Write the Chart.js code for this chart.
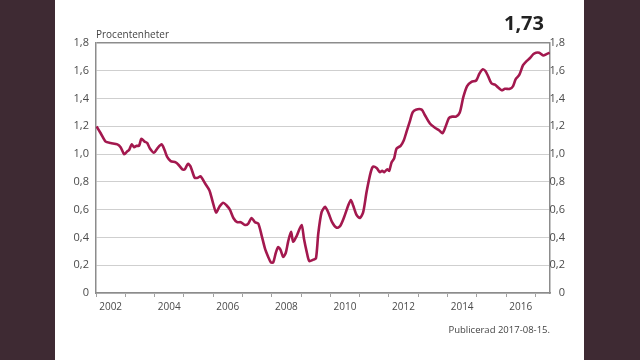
<!DOCTYPE html>
<html>
<head>
<meta charset="utf-8">
<script src="https://cdn.jsdelivr.net/npm/chart.js@4"></script>
<style>
  html, body { margin: 0; padding: 0; }
  body { width: 640px; height: 360px; background: #3e2a33; position: relative; overflow: hidden; font-family: "Open Sans", sans-serif; }
  #panel { position: absolute; left: 55px; top: 0; width: 529px; height: 360px; background: #fff; }
  #chart { position: absolute; left: 0; top: 0; }
  .txt { position: absolute; color: #444; white-space: nowrap; }
  #unit { left: 96px; top: 27px; font-size: 10px; }
  #last { right: 96px; top: 9px; font-size: 20px; font-weight: bold; color: #222; }
  #pub { right: 90px; top: 323px; font-size: 9.5px; }
</style>
</head>
<body>
<div id="panel"></div>
<canvas id="chart" width="640" height="360"></canvas>
<div class="txt" id="unit">Procentenheter</div>
<div class="txt" id="last">1,73</div>
<div class="txt" id="pub">Publicerad 2017-08-15.</div>
<script>
const years = [
  2002.02, 2002.16, 2002.33, 2002.50, 2002.73, 2002.84, 2002.96, 2003.07, 2003.13, 2003.22,
  2003.30, 2003.39, 2003.47, 2003.55, 2003.66, 2003.75, 2003.84, 2003.98, 2004.09, 2004.24,
  2004.34, 2004.43, 2004.55, 2004.72, 2004.83, 2004.95, 2005.03, 2005.14, 2005.23, 2005.37,
  2005.48, 2005.57, 2005.72, 2005.87, 2005.98, 2006.10, 2006.21, 2006.34, 2006.46, 2006.57,
  2006.69, 2006.82, 2006.94, 2007.09, 2007.20, 2007.31, 2007.43, 2007.54, 2007.66, 2007.77,
  2007.88, 2007.97, 2008.05, 2008.14, 2008.22, 2008.30, 2008.39, 2008.48, 2008.56, 2008.66,
  2008.73, 2008.85, 2009.02, 2009.10, 2009.19, 2009.28, 2009.42, 2009.51, 2009.59, 2009.70,
  2009.82, 2009.93, 2010.06, 2010.21, 2010.33, 2010.46, 2010.61, 2010.70, 2010.78, 2010.90,
  2011.01, 2011.12, 2011.24, 2011.38, 2011.46, 2011.58, 2011.69, 2011.77, 2011.84, 2011.94,
  2012.01, 2012.09, 2012.18, 2012.26, 2012.40, 2012.51, 2012.60, 2012.72, 2012.81, 2012.92,
  2013.12, 2013.23, 2013.40, 2013.57, 2013.72, 2013.83, 2013.94, 2014.05, 2014.16, 2014.29,
  2014.42, 2014.54, 2014.67, 2014.82, 2014.98, 2015.09, 2015.20, 2015.29, 2015.39, 2015.50,
  2015.62, 2015.73, 2015.85, 2015.96, 2016.13, 2016.24, 2016.33, 2016.45, 2016.58, 2016.70,
  2016.81, 2016.93, 2017.02, 2017.13, 2017.27, 2017.38, 2017.49
];
const values = [
  1.20, 1.15, 1.09, 1.08, 1.07, 1.05, 1.00, 1.02, 1.03, 1.07,
  1.05, 1.06, 1.06, 1.11, 1.09, 1.08, 1.04, 1.01, 1.04, 1.07,
  1.03, 0.98, 0.95, 0.94, 0.92, 0.89, 0.89, 0.93, 0.91, 0.83,
  0.83, 0.84, 0.79, 0.74, 0.66, 0.58, 0.62, 0.65, 0.63, 0.60,
  0.54, 0.51, 0.51, 0.49, 0.50, 0.54, 0.51, 0.50, 0.41, 0.32,
  0.26, 0.22, 0.22, 0.29, 0.33, 0.31, 0.26, 0.29, 0.37, 0.44,
  0.37, 0.41, 0.49, 0.39, 0.30, 0.23, 0.24, 0.25, 0.43, 0.58,
  0.62, 0.58, 0.51, 0.47, 0.48, 0.54, 0.63, 0.67, 0.63, 0.56,
  0.54, 0.58, 0.73, 0.87, 0.91, 0.90, 0.87, 0.88, 0.87, 0.89,
  0.88, 0.94, 0.97, 1.04, 1.06, 1.10, 1.16, 1.24, 1.30, 1.32,
  1.32, 1.28, 1.22, 1.19, 1.17, 1.15, 1.20, 1.26, 1.27, 1.27,
  1.30, 1.41, 1.49, 1.52, 1.53, 1.58, 1.61, 1.60, 1.56, 1.51,
  1.50, 1.48, 1.46, 1.47, 1.47, 1.49, 1.54, 1.57, 1.64, 1.67,
  1.69, 1.72, 1.73, 1.73, 1.71, 1.72, 1.73
];
// year boundaries get a tick mark, even years get a label in the middle of the year
const tickYears = [2002, 2003, 2004, 2005, 2006, 2007, 2008, 2009, 2010, 2011, 2012, 2013, 2014, 2015, 2016, 2017];
const labelYears = [2002, 2004, 2006, 2008, 2010, 2012, 2014, 2016];

const axisColor = "#8c8c8c";
const gridColor = "#cfcfcf";
const labelColor = "#4a4a4a";
const fontFamily = "'Open Sans', sans-serif";

const fmt = (v) => (Math.abs(v) < 1e-9 ? "0" : v.toFixed(1).replace(".", ","));

new Chart(document.getElementById("chart"), {
  type: "line",
  data: {
    datasets: [{
      data: years.map((x, i) => ({ x, y: values[i] })),
      borderColor: "#a3184e",
      borderWidth: 2.6,
      pointRadius: 0,
      tension: 0.25,
      fill: false
    }]
  },
  options: {
    responsive: false,
    animation: false,
    layout: { padding: { left: 0, right: 75, top: 43, bottom: 43 } },
    plugins: { legend: { display: false }, tooltip: { enabled: false } },
    scales: {
      x: {
        type: "linear",
        min: 2002,
        max: 2017.5,
        afterBuildTicks: (scale) => {
          const t = [];
          tickYears.forEach((y) => {
            t.push({ value: y });
            t.push({ value: y + 0.5 });
          });
          scale.ticks = t;
        },
        afterFit: (scale) => { scale.height = 24; },
        border: { color: axisColor, width: 1.5 },
        grid: {
          drawOnChartArea: false,
          tickLength: 4,
          color: (ctx) => (ctx.tick && Number.isInteger(ctx.tick.value) ? "#a0a0a0" : "rgba(0,0,0,0)")
        },
        ticks: {
          autoSkip: false,
          maxRotation: 0,
          padding: 4,
          color: labelColor,
          font: { family: fontFamily, size: 10 },
          callback: (v) => {
            const y = Math.floor(v);
            return (v - y === 0.5 && labelYears.includes(y)) ? String(y) : "";
          }
        }
      },
      y: {
        position: "left",
        min: 0,
        max: 1.8,
        afterFit: (scale) => { scale.width = 96; },
        border: { color: axisColor, width: 1.5 },
        grid: {
          drawTicks: false,
          lineWidth: (ctx) => (ctx.tick && Math.abs(ctx.tick.value - 1.8) < 1e-6 ? 1.5 : 1),
          color: (ctx) => (ctx.tick && Math.abs(ctx.tick.value - 1.8) < 1e-6 ? axisColor : gridColor)
        },
        ticks: {
          stepSize: 0.2,
          padding: 7,
          color: labelColor,
          font: { family: fontFamily, size: 11 },
          callback: fmt
        }
      },
      y2: {
        position: "right",
        min: 0,
        max: 1.8,
        afterFit: (scale) => { scale.width = 15; },
        border: { color: axisColor, width: 1.5 },
        grid: { drawOnChartArea: false, drawTicks: false },
        ticks: {
          stepSize: 0.2,
          padding: 1,
          crossAlign: "far",
          color: labelColor,
          font: { family: fontFamily, size: 11 },
          callback: fmt
        }
      }
    }
  }
});
</script>
</body>
</html>
